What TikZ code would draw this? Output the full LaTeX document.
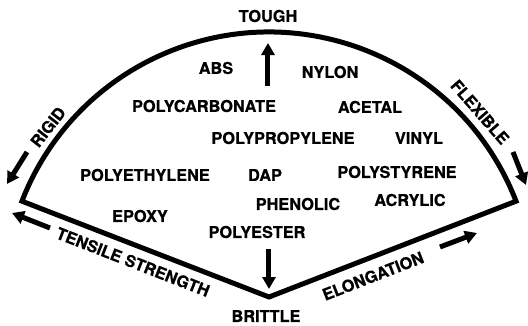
\documentclass[tikz,border=0pt]{standalone}
\usepackage{fontspec}
\setmainfont{TeX Gyre Heros}
\usetikzlibrary{arrows.meta}
\tikzset{
  outline/.style={line width=5pt, line join=miter},
  bigarrow/.style={line width=5pt, -{Triangle[length=12pt,width=13pt]}},
  lbl/.style={font=\fontsize{16.3}{18}\selectfont\bfseries\addfontfeatures{FakeBold=0.7}, inner sep=0pt},
}
\begin{document}
\begin{tikzpicture}[x=1pt,y=1pt]
\useasboundingbox (-269,-28) rectangle (259,297);
% sector corners
\coordinate (V) at (0,0);
\coordinate (LC) at (158.8:265);
\coordinate (RC) at (21.2:265);
\draw[outline] (LC) -- (V) -- (RC) arc[start angle=21.2, end angle=158.8, radius=265] -- cycle;
% axis labels
\node[lbl] (tough) at (-1,281) {TOUGH};
\node[lbl] (brittle) at (-3,-19) {BRITTLE};
\node[lbl, rotate=52] (rigid) at (-221,170) {RIGID};
\node[lbl, rotate=-49] (flexible) at (211,185) {FLEXIBLE};
\node[lbl, rotate=-21.3] (tensile) at (-136,35) {TENSILE STRENGTH};
\node[lbl, rotate=21.2] (elong) at (104,21) {ELONGATION};
% materials
\node[lbl] (abs) at (-53,229) {ABS};
\node[lbl] (nylon) at (61,225) {NYLON};
\node[lbl] (pc) at (-65,191) {POLYCARBONATE};
\node[lbl] (acetal) at (101,190) {ACETAL};
\node[lbl] (pp) at (14,159) {POLYPROPYLENE};
\node[lbl] (vinyl) at (150,159) {VINYL};
\node[lbl] (pe) at (-124,122) {POLYETHYLENE};
\node[lbl] (dap) at (-4,122) {DAP};
\node[lbl] (ps) at (128,125) {POLYSTYRENE};
\node[lbl] (phen) at (29,93) {PHENOLIC};
\node[lbl] (acr) at (141,97) {ACRYLIC};
\node[lbl] (epoxy) at (-129,81) {EPOXY};
\node[lbl] (polyester) at (-12,65) {POLYESTER};
% arrows
\coordinate (ta) at (-1,211); \coordinate (tb) at (-1,254);
\coordinate (ba) at (0,48); \coordinate (bb) at (0,8);
\coordinate (ra) at (-242,145); \coordinate (rb) at (-262,113);
\coordinate (fa) at (244,145); \coordinate (fb) at (257,112);
\coordinate (sa) at (-219,69); \coordinate (sb) at (-257,84);
\coordinate (ea) at (171,50); \coordinate (eb) at (208,64);
\draw[bigarrow] (ta) -- (tb);
\draw[bigarrow] (ba) -- (bb);
\draw[bigarrow] (ra) -- (rb);
\draw[bigarrow] (fa) -- (fb);
\draw[bigarrow] (sa) -- (sb);
\draw[bigarrow] (ea) -- (eb);
\end{tikzpicture}
\end{document}
